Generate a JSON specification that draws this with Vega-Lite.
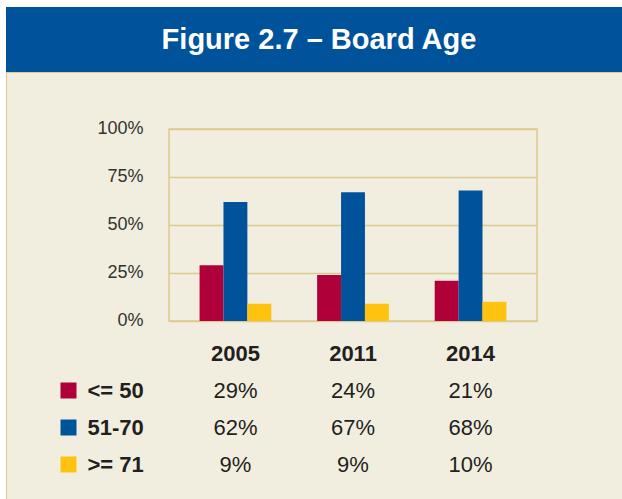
{
  "$schema": "https://vega.github.io/schema/vega-lite/v6.json",
  "background": "#F2EEDF",
  "padding": 0,
  "config": {
    "view": {"stroke": null},
    "font": "Liberation Sans",
    "concat": {"spacing": 0}
  },
  "datasets": {
    "board": [
      {"year": "2005", "group": "<= 50", "value": 0.29},
      {"year": "2005", "group": "51-70", "value": 0.62},
      {"year": "2005", "group": ">= 71", "value": 0.09},
      {"year": "2011", "group": "<= 50", "value": 0.24},
      {"year": "2011", "group": "51-70", "value": 0.67},
      {"year": "2011", "group": ">= 71", "value": 0.09},
      {"year": "2014", "group": "<= 50", "value": 0.21},
      {"year": "2014", "group": "51-70", "value": 0.68},
      {"year": "2014", "group": ">= 71", "value": 0.10}
    ],
    "blank": [{"k": 0}],
    "title": [{"t": "Figure 2.7 – Board Age"}]
  },
  "bounds": "flush",
  "spacing": 0,
  "hconcat": [
    {
      "width": 6, "height": 499,
      "view": {"fill": "#FFFFFF", "stroke": null},
      "data": {"name": "blank"},
      "mark": {"type": "point", "opacity": 0}
    },
    {
      "bounds": "flush",
      "spacing": 0,
      "vconcat": [
        {
          "width": 616, "height": 7,
          "view": {"fill": "#FFFFFF", "stroke": null},
          "data": {"name": "blank"},
          "mark": {"type": "point", "opacity": 0}
        },
        {
          "width": 616, "height": 65,
          "view": {"fill": "#00539B", "stroke": null},
          "data": {"name": "title"},
          "mark": {"type": "text", "font": "Liberation Sans", "fontSize": 29, "fontWeight": "bold", "color": "#FFFFFF", "align": "center", "baseline": "middle", "dx": 5},
          "encoding": {"text": {"field": "t", "type": "nominal"}}
        },
        {
          "width": 616, "height": 1,
          "view": {"fill": "#DCCB90", "stroke": null},
          "data": {"name": "blank"},
          "mark": {"type": "point", "opacity": 0}
        },
        {
          "bounds": "flush",
          "spacing": 0,
          "hconcat": [
            {
              "width": 1, "height": 426,
              "view": {"fill": "#DCCB90", "stroke": null},
              "data": {"name": "blank"},
              "mark": {"type": "point", "opacity": 0}
            },
            {
              "width": 162, "height": 426,
              "data": {"name": "blank"},
              "mark": {"type": "point", "opacity": 0}
            },
            {
              "bounds": "flush",
              "spacing": 0,
              "vconcat": [
                {
                  "width": 368, "height": 56,
                  "data": {"name": "blank"},
                  "mark": {"type": "point", "opacity": 0}
                },
                {
                  "width": 368, "height": 192,
                  "view": {"stroke": "#DCCB90", "strokeWidth": 1.5},
                  "data": {"name": "board"},
                  "mark": {"type": "bar"},
                  "encoding": {
                    "x": {
                      "field": "year", "type": "nominal",
                      "scale": {"type": "band", "paddingInner": 0.39, "paddingOuter": 0.26},
                      "axis": {"orient": "bottom", "title": null, "domain": false, "ticks": false, "grid": false, "labelAngle": 0, "labelFont": "Liberation Sans", "labelFontSize": 22, "labelFontWeight": "bold", "labelColor": "#231F20", "labelPadding": 22}
                    },
                    "xOffset": {
                      "field": "group", "type": "nominal",
                      "sort": ["<= 50", "51-70", ">= 71"],
                      "scale": {"paddingInner": 0, "paddingOuter": 0}
                    },
                    "y": {
                      "field": "value", "type": "quantitative",
                      "scale": {"domain": [0, 1]},
                      "axis": {"values": [0, 0.25, 0.5, 0.75, 1], "format": ".0%", "title": null, "domain": false, "ticks": false, "labelPadding": 26, "labelFont": "Liberation Sans", "labelFontSize": 18, "labelColor": "#333333", "labelOffset": -1, "gridColor": "#DCCB90", "gridWidth": 1.5}
                    },
                    "color": {
                      "field": "group", "type": "nominal",
                      "scale": {"domain": ["<= 50", "51-70", ">= 71"], "range": ["#B0003A", "#00539B", "#FFC20E"]},
                      "legend": null
                    }
                  }
                },
                {
                  "width": 368, "height": 178,
                  "data": {"name": "board"},
                  "mark": {"type": "text", "font": "Liberation Sans", "fontSize": 22, "color": "#231F20", "align": "center", "baseline": "middle"},
                  "encoding": {
                    "x": {
                      "field": "year", "type": "nominal",
                      "scale": {"type": "band", "paddingInner": 0.39, "paddingOuter": 0.26},
                      "axis": null
                    },
                    "y": {
                      "field": "group", "type": "nominal",
                      "sort": ["<= 50", "51-70", ">= 71"],
                      "scale": {"type": "band", "paddingInner": 0, "paddingOuter": 0.905, "align": 0.766},
                      "axis": {
                        "orient": "left", "title": null, "domain": false, "grid": false,
                        "offset": 93, "tickSize": 16, "tickWidth": 16,
                        "tickColor": {
                          "condition": [
                            {"test": "datum.value === '<= 50'", "value": "#B0003A"},
                            {"test": "datum.value === '51-70'", "value": "#00539B"}
                          ],
                          "value": "#FFC20E"
                        },
                        "labelAlign": "left", "labelPadding": -27,
                        "labelFont": "Liberation Sans", "labelFontSize": 22, "labelFontWeight": "bold", "labelColor": "#231F20"
                      }
                    },
                    "text": {"field": "value", "type": "quantitative", "format": ".0%"}
                  }
                }
              ]
            }
          ]
        }
      ]
    }
  ]
}
